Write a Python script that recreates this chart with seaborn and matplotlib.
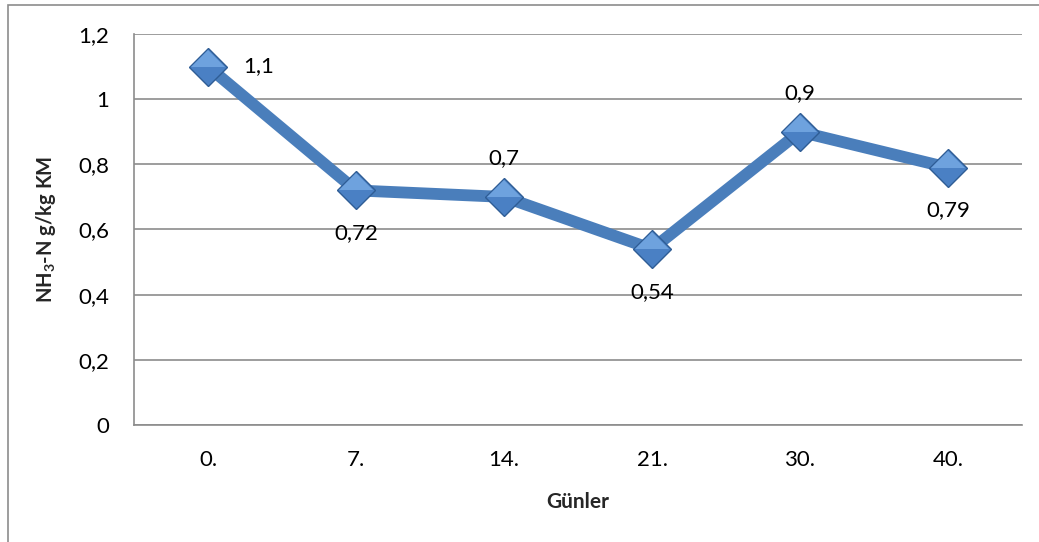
import matplotlib
matplotlib.use("Agg")
import matplotlib.pyplot as plt
import matplotlib.patches as mpatches
import seaborn as sns
import pandas as pd

days = ["0.", "7.", "14.", "21.", "30.", "40."]
nh3n = [1.1, 0.72, 0.7, 0.54, 0.9, 0.79]
value_labels = ["1,1", "0,72", "0,7", "0,54", "0,9", "0,79"]
label_pos = ["right", "below", "above", "below", "above", "below"]
y_ticks = [0, 0.2, 0.4, 0.6, 0.8, 1.0, 1.2]
y_tick_labels = ["0", "0,2", "0,4", "0,6", "0,8", "1", "1,2"]

sns.set_theme(style="white")
plt.rcParams["font.family"] = ["Lato", "DejaVu Sans"]
plt.rcParams["mathtext.default"] = "regular"

df = pd.DataFrame({"day": days, "value": nh3n})

fig = plt.figure(figsize=(10.39, 5.42), dpi=100)
ax = fig.add_axes([134 / 1039, 1 - 425 / 542, (1022 - 134) / 1039, (425 - 34) / 542])

# outer chart frame
fig.patches.append(mpatches.Rectangle((8 / 1039, -0.05), 1.2, 1 - 5 / 542 + 0.05,
                                      transform=fig.transFigure, fill=False,
                                      edgecolor="#8c8c8c", linewidth=1.2))

line_color = "#4a7ebb"
sns.lineplot(data=df, x="day", y="value", ax=ax, color=line_color,
             linewidth=8.5, sort=False, zorder=3)
ax.plot(range(len(days)), nh3n, linestyle="none", marker="D", markersize=19,
        markerfacecolor="#4a80c4", markeredgecolor="#2f5d95", markeredgewidth=1.0,
        zorder=4)
# lighter upper half of each diamond
ax.plot(range(len(days)), nh3n, linestyle="none", marker="D", markersize=17.5,
        fillstyle="top", markerfacecolor="#6ea2de", markerfacecoloralt="none",
        markeredgewidth=0, zorder=5)

offsets_px = {"right": (51, 0), "below": (0, -43), "above": (0, 39)}
for i, (v, lab, pos) in enumerate(zip(nh3n, value_labels, label_pos)):
    dx, dy = offsets_px[pos]
    ax.annotate(lab, (i, v), xytext=(dx * 0.72, dy * 0.72), textcoords="offset points",
                ha="center", va="center", fontsize=16, color="black", zorder=6)

ax.set_xlim(-0.5, len(days) - 0.5)
ax.set_ylim(0, 1.2)
ax.set_yticks(y_ticks)
ax.set_yticklabels(y_tick_labels)
ax.yaxis.grid(True, color="#8c8c8c", linewidth=1.2)
ax.set_axisbelow(True)
for side in ["top", "right"]:
    ax.spines[side].set_visible(False)
for side in ["left", "bottom"]:
    ax.spines[side].set_color("#8c8c8c")
    ax.spines[side].set_linewidth(1.2)
ax.tick_params(axis="both", labelsize=16, colors="black", length=0)
ax.tick_params(axis="y", pad=18)
ax.tick_params(axis="x", pad=18)

ax.set_xlabel("Günler", fontsize=15, fontweight="bold", labelpad=16)
ax.set_ylabel("")
fig.text(46 / 1039, 1 - 229 / 542, "NH$_3$-N g/kg KM", rotation=90,
         ha="center", va="center", fontsize=14.5, fontweight="bold",
         rotation_mode="anchor")

fig.savefig("out.png", dpi=100)
